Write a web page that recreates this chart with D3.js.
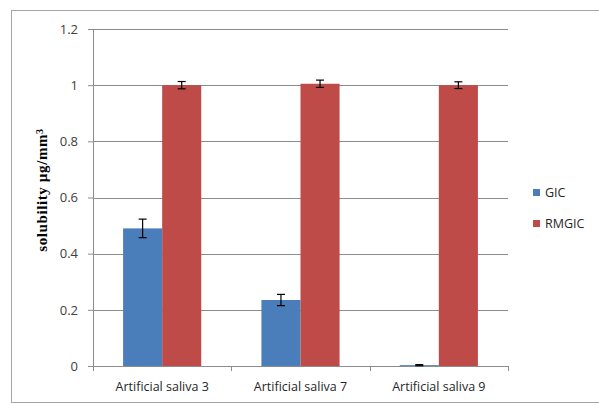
<!DOCTYPE html>
<html>
<head>
<meta charset="utf-8">
<script src="https://cdn.jsdelivr.net/npm/d3@7"></script>
<style>
  body { margin: 0; background: #fff; }
  svg { display: block; }
</style>
</head>
<body>
<div id="chart"></div>
<script>
const categories = ["Artificial saliva 3", "Artificial saliva 7", "Artificial saliva 9"];
const seriesNames = ["GIC", "RMGIC"];
const gicValues = [0.49, 0.235, 0.003];
const gicErrors = [0.033, 0.02, 0.002];
const rmgicValues = [1.0, 1.005, 1.0];
const rmgicErrors = [0.013, 0.013, 0.012];
const yTicks = [0, 0.2, 0.4, 0.6, 0.8, 1, 1.2];
const colors = ["#4a7ebb", "#be4b48"];

const W = 599, H = 404;
const margin = {top: 29, right: 91, bottom: 38, left: 93},
  width = W - margin.left - margin.right,
  height = H - margin.top - margin.bottom;

const svg = d3.select("#chart").append("svg")
  .attr("width", W)
  .attr("height", H);

// outer frame
svg.append("rect")
  .attr("x", 11.5).attr("y", 10.5)
  .attr("width", W + 10).attr("height", 392)
  .attr("fill", "none")
  .attr("stroke", "#a6a6a6");

const plot = svg.append("g")
  .attr("transform", "translate(" + margin.left + "," + margin.top + ")");

const x0 = d3.scaleBand()
  .domain(categories)
  .range([0, width]);

// two bars per group, ~30px gap either side
const x1 = d3.scaleBand()
  .domain(seriesNames)
  .range([0, x0.bandwidth()])
  .paddingInner(0)
  .paddingOuter(0.77);

const y = d3.scaleLinear()
  .domain([0, 1.2])
  .range([height, 0]);

// gridlines
plot.append("g")
  .selectAll("line")
  .data(yTicks.filter(d => d > 0))
  .join("line")
  .attr("x1", 0).attr("x2", width)
  .attr("y1", d => Math.round(y(d)) + 0.5)
  .attr("y2", d => Math.round(y(d)) + 0.5)
  .attr("stroke", "#8c8c8c");

// y axis
const yAxis = d3.axisLeft(y)
  .tickValues(yTicks)
  .tickFormat(d => d3.format("")(d))
  .tickSize(5)
  .tickPadding(10);
const gy = plot.append("g").attr("class", "axis-y").call(yAxis);
gy.select(".domain").attr("stroke", "#8c8c8c");
gy.selectAll(".tick line").attr("stroke", "#8c8c8c");
gy.selectAll("text")
  .style("font-family", "'Open Sans', 'Noto Sans', sans-serif")
  .style("font-size", "13px")
  .attr("fill", "#404040");

// x axis
const xAxis = d3.axisBottom(x0)
  .tickSize(0)
  .tickPadding(16);
const gx = plot.append("g").attr("class", "axis-x")
  .attr("transform", "translate(0," + height + ")")
  .call(xAxis);
gx.select(".domain").attr("stroke", "#8c8c8c");
gx.selectAll("text")
  .style("font-family", "'Open Sans', 'Noto Sans', sans-serif")
  .style("font-size", "12.5px")
  .attr("fill", "#262626");
// category boundary ticks
gx.append("g")
  .selectAll("line")
  .data(categories.map(c => x0(c)).concat([width]))
  .join("line")
  .attr("x1", d => Math.round(d) + 0.5).attr("x2", d => Math.round(d) + 0.5)
  .attr("y1", 0).attr("y2", 5)
  .attr("stroke", "#8c8c8c");

// bars
const rows = categories.map((c, i) => ({
  cat: c,
  vals: [
    {name: "GIC", v: gicValues[i], e: gicErrors[i]},
    {name: "RMGIC", v: rmgicValues[i], e: rmgicErrors[i]}
  ]
}));

const groups = plot.selectAll(".group")
  .data(rows)
  .join("g")
  .attr("class", "group")
  .attr("transform", d => "translate(" + x0(d.cat) + ",0)");

groups.selectAll("rect")
  .data(d => d.vals)
  .join("rect")
  .attr("x", d => x1(d.name))
  .attr("width", x1.bandwidth())
  .attr("y", d => y(d.v))
  .attr("height", d => height - y(d.v))
  .attr("fill", (d, i) => colors[i]);

// error bars
const err = groups.selectAll(".err")
  .data(d => d.vals)
  .join("g")
  .attr("class", "err")
  .attr("transform", d => "translate(" + (x1(d.name) + x1.bandwidth() / 2) + ",0)");
err.append("line")
  .attr("x1", 0).attr("x2", 0)
  .attr("y1", d => y(d.v + d.e)).attr("y2", d => y(d.v - d.e))
  .attr("stroke", "#000").attr("stroke-width", 1.2);
err.append("line")
  .attr("x1", -4).attr("x2", 4)
  .attr("y1", d => y(d.v + d.e)).attr("y2", d => y(d.v + d.e))
  .attr("stroke", "#000").attr("stroke-width", 1.2);
err.append("line")
  .attr("x1", -4).attr("x2", 4)
  .attr("y1", d => y(d.v - d.e)).attr("y2", d => y(d.v - d.e))
  .attr("stroke", "#000").attr("stroke-width", 1.2);

// y label
const ylab = svg.append("text")
  .attr("transform", "translate(47," + 190 + ") rotate(-90)")
  .attr("text-anchor", "middle")
  .style("font-family", "'Liberation Serif', 'DejaVu Serif', serif")
  .style("font-size", "15px")
  .style("font-weight", "bold")
  .style("letter-spacing", "0.6px")
  .attr("fill", "#000");
ylab.append("tspan").text("solubility µg/mm");
ylab.append("tspan").attr("dy", "-0.45em").style("font-size", "10px").text("3");

// legend
const legend = svg.append("g")
  .attr("transform", "translate(533,189)");
const li = legend.selectAll("g")
  .data(seriesNames)
  .join("g")
  .attr("transform", (d, i) => "translate(0," + (i * 31) + ")");
li.append("rect")
  .attr("width", 7).attr("height", 7)
  .attr("fill", (d, i) => colors[i]);
li.append("text")
  .attr("x", 12).attr("y", 8)
  .style("font-family", "'Open Sans', 'Noto Sans', sans-serif")
  .style("font-size", "12.5px")
  .attr("fill", "#262626")
  .text(d => d);
</script>
</body>
</html>
